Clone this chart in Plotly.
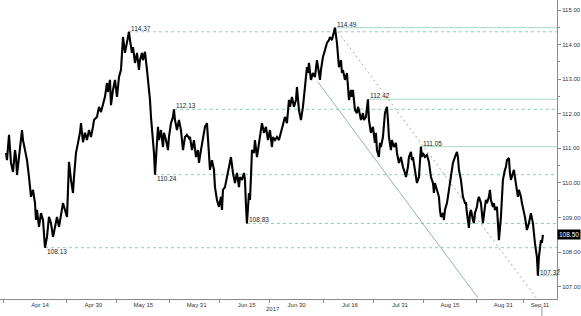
import pandas as pd
import plotly.graph_objects as go

# ---- data (days since 2017-04-02, price) ----
start_date = "2017-04-02"
day_offsets = [
    1.8, 2.1, 2.7, 3.3, 3.9, 4.5, 4.8, 5.1, 5.7, 6.3, 6.6, 6.9, 7.5, 8.1, 8.7, 9.0, 9.3, 9.9,
    10.5, 10.8, 11.1, 11.7, 12.3, 12.9, 13.2, 13.5, 14.1, 14.7, 15.3, 15.9, 16.5, 17.1, 17.7,
    18.3, 18.9, 19.5, 20.1, 20.4, 20.7, 21.3, 21.9, 22.2, 22.8, 23.4, 24.0, 24.3, 24.9, 25.5,
    26.1, 26.7, 27.3, 27.9, 28.2, 29.1, 29.7, 30.3, 30.9, 31.5, 32.1, 32.4, 33.0, 33.3, 33.9,
    34.5, 35.1, 35.7, 36.3, 36.6, 36.9, 37.5, 38.1, 38.7, 39.0, 39.6, 39.9, 40.5, 41.1, 41.7,
    42.0, 42.6, 42.9, 43.5, 44.1, 44.7, 45.0, 45.3, 45.9, 46.2, 46.5, 47.1, 47.4, 47.7, 48.3,
    48.9, 49.2, 49.8, 50.4, 50.7, 51.3, 51.9, 52.2, 52.5, 53.1, 53.7, 54.3, 54.9, 55.5, 56.1,
    56.7, 57.0, 57.6, 58.2, 58.8, 59.4, 59.7, 60.3, 60.9, 61.5, 62.1, 62.4, 62.7, 63.0, 63.6,
    64.2, 64.5, 65.1, 65.7, 66.3, 66.6, 66.9, 67.5, 68.1, 68.7, 69.3, 69.9, 70.5, 71.1, 71.7,
    72.0, 72.6, 73.2, 73.5, 73.8, 74.1, 74.7, 75.0, 75.3, 75.6, 76.2, 76.5, 77.1, 77.7, 78.3,
    78.6, 79.2, 79.8, 80.4, 81.0, 81.6, 81.9, 82.5, 83.1, 83.7, 84.3, 84.9, 85.5, 86.1, 86.7,
    87.0, 87.6, 88.2, 88.8, 89.1, 89.7, 90.3, 90.9, 91.5, 92.1, 92.4, 92.7, 93.3, 93.9, 94.5,
    95.1, 95.7, 96.0, 96.3, 96.9, 97.5, 98.1, 98.7, 99.0, 99.6, 100.2, 100.5, 101.1, 101.4,
    101.7, 102.3, 102.6, 102.9, 103.5, 104.1, 104.4, 104.7, 105.3, 105.6, 105.9, 106.5, 107.1,
    107.4, 107.7, 108.3, 108.9, 109.2, 109.8, 110.4, 110.7, 111.3, 111.9, 112.5, 112.8, 113.1,
    113.7, 114.0, 114.3, 114.9, 115.5, 116.1, 116.4, 116.7, 117.3, 117.6, 118.2, 118.8, 119.1,
    119.7, 120.3, 120.9, 121.5, 121.8, 122.4, 122.7, 123.3, 123.6, 123.9, 124.5, 125.1, 125.7,
    126.0, 126.3, 126.6, 126.9, 127.5, 128.1, 128.7, 129.0, 129.3, 129.9, 130.2, 130.5, 131.1,
    131.7, 132.0, 132.3, 132.9, 133.2, 133.5, 134.1, 134.4, 134.7, 135.3, 135.6, 135.9, 136.5,
    137.1, 137.4, 137.7, 138.3, 138.6, 138.9, 139.5, 139.8, 140.1, 140.7, 141.0, 141.3, 141.9,
    142.2, 142.5, 143.1, 143.4, 143.7, 144.3, 144.6, 144.9, 145.5, 145.8, 146.1, 146.7, 147.0,
    147.3, 147.9, 148.2, 148.5, 149.1, 149.4, 149.7, 150.3, 150.6, 150.9, 151.5, 151.8, 152.1,
    152.7, 153.0, 153.3, 153.9, 154.2, 154.5, 155.1, 155.4, 155.7, 156.3, 156.6, 156.9, 157.5,
    157.8, 158.1, 158.7, 159.0, 159.3, 159.9, 160.2, 160.5, 161.1, 161.4, 161.7, 162.0, 162.3,
    162.6, 162.9,
]
prices = [
    110.87, 110.66, 111.39, 110.58, 110.32, 110.95, 110.75, 110.23, 110.75, 111.24, 111.53,
    111.24, 110.95, 110.66, 110.17, 109.80, 109.60, 109.80, 109.42, 108.93, 109.22, 108.73,
    109.13, 108.93, 108.55, 108.13, 108.44, 109.02, 108.84, 108.44, 108.73, 109.02, 108.73,
    109.02, 109.42, 109.22, 109.02, 109.80, 110.61, 110.09, 109.71, 110.17, 110.87, 111.16,
    111.45, 111.73, 111.18, 111.45, 111.24, 111.53, 111.33, 111.62, 111.82, 111.91, 112.20,
    112.05, 112.31, 112.49, 112.89, 112.63, 112.98, 112.25, 112.69, 112.98, 112.49, 113.06,
    113.27, 113.76, 114.22, 113.76, 114.13, 114.37, 114.13, 113.76, 113.93, 113.47, 113.76,
    113.27, 113.55, 113.76, 113.55, 113.79, 113.27, 112.77, 112.40, 111.91, 111.33, 110.87,
    110.24, 111.04, 111.62, 111.24, 111.53, 111.04, 111.45, 111.24, 110.95, 111.33, 111.73,
    111.91, 112.13, 111.82, 111.53, 111.82, 111.53, 110.95, 111.33, 111.39, 111.30, 111.33,
    110.95, 111.24, 110.75, 110.95, 110.58, 110.95, 111.24, 111.62, 111.73, 111.16, 110.58,
    110.38, 110.66, 110.38, 109.88, 109.51, 109.31, 109.60, 109.22, 109.80, 109.88, 110.17,
    110.38, 110.75, 110.29, 110.00, 110.29, 109.88, 110.17, 110.09, 110.29, 110.09, 109.36,
    108.83, 109.71, 109.51, 110.17, 110.95, 110.87, 111.24, 110.75, 111.16, 111.53, 111.73,
    111.45, 111.62, 111.24, 111.53, 111.04, 111.33, 111.24, 111.33, 111.24, 111.45, 111.62,
    111.91, 111.73, 112.40, 112.20, 112.49, 112.20, 112.40, 112.77, 112.11, 111.82, 112.20,
    112.77, 113.35, 113.18, 113.47, 112.98, 113.18, 113.06, 113.55, 113.18, 112.98, 113.27,
    113.64, 113.84, 114.05, 114.13, 114.22, 114.13, 114.34, 114.49, 114.05, 113.64, 113.35,
    113.55, 113.18, 113.27, 112.98, 113.18, 112.69, 112.40, 112.69, 112.49, 112.69, 112.11,
    112.02, 112.20, 112.11, 111.82, 112.02, 111.82, 111.91, 112.42, 111.82, 111.45, 111.62,
    111.16, 111.45, 110.95, 110.75, 111.16, 111.04, 111.33, 112.02, 112.20, 111.82, 111.33,
    110.95, 111.24, 111.04, 111.16, 110.87, 110.58, 110.75, 110.46, 110.29, 110.17, 110.46,
    110.75, 110.90, 110.66, 110.75, 110.38, 110.00, 110.17, 110.66, 111.05, 110.75, 110.87,
    110.75, 110.81, 110.61, 110.38, 110.17, 110.00, 109.71, 110.00, 109.80, 109.60, 109.22,
    109.02, 109.13, 108.93, 109.22, 109.42, 109.60, 109.80, 110.17, 110.46, 110.58, 110.75,
    110.90, 110.75, 110.38, 110.09, 109.80, 109.60, 109.42, 109.42, 109.13, 108.70, 109.13,
    109.22, 108.93, 108.84, 109.13, 109.31, 109.51, 109.60, 109.42, 109.02, 108.84, 109.31,
    109.51, 109.42, 109.60, 109.80, 109.51, 109.31, 109.42, 109.22, 109.31, 108.84, 108.35,
    109.02, 109.80, 110.09, 110.38, 110.46, 110.66, 110.72, 110.29, 110.09, 110.29, 110.38,
    110.17, 109.80, 109.60, 109.80, 109.60, 109.42, 109.31, 109.02, 108.84, 108.64, 108.84,
    109.02, 109.13, 108.84, 108.44, 108.27, 107.86, 107.32, 107.86, 108.06, 108.35, 108.27,
    108.50,
]

# Marked highs / lows (level, start day, label side)
level_prices = [114.37, 112.13, 110.24, 108.13, 108.83, 114.49, 112.42, 111.05, 107.32]
level_days = [38.7, 52.2, 46.5, 13.5, 74.1, 100.5, 110.4, 126.3, 161.4]
level_solid = [False, False, False, False, False, True, True, True, True]
level_label_below = [False, False, True, True, False, False, False, False, False]

# Trend lines (start/end day, start/end price)
trend_solid_days = [95.4, 143.4]
trend_solid_prices = [112.92, 106.68]
trend_dot_days = [100.5, 161.1]
trend_dot_prices = [114.49, 106.65]

last_price = 108.50
last_day = 162.9

x_tick_dates = ["2017-04-14", "2017-04-30", "2017-05-15", "2017-05-31", "2017-06-15",
                "2017-06-30", "2017-07-16", "2017-07-31", "2017-08-15", "2017-08-31",
                "2017-09-11"]
x_tick_labels = ["Apr 14", "Apr 30", "May 15", "May 31", "Jun 15", "Jun 30", "Jul 16",
                 "Jul 31", "Aug 15", "Aug 31", "Sep 11"]
x_minor_dates = ["2017-04-03", "2017-04-22", "2017-05-07", "2017-05-23", "2017-06-07",
                 "2017-06-22", "2017-07-08", "2017-07-23", "2017-08-07", "2017-08-23",
                 "2017-09-06"]
y_ticks = [107, 108, 109, 110, 111, 112, 113, 114, 115]
x_range = ["2017-04-02", "2017-09-16 03:00"]
y_range = [106.647, 115.289]

base = pd.Timestamp(start_date)


def to_date(d):
    return base + pd.to_timedelta(d, unit="D")


dates = [to_date(d) for d in day_offsets]
end_date = pd.Timestamp(x_range[1])

FONT = "Liberation Sans"
DASH_COL = "#8ccfb6"
SOLID_COL = "#a9dac8"

fig = go.Figure()

# horizontal level lines
for p, d, solid in zip(level_prices, level_days, level_solid):
    fig.add_trace(go.Scatter(
        x=[to_date(d), end_date], y=[p, p], mode="lines",
        line=dict(color=SOLID_COL if solid else DASH_COL, width=1,
                  dash="solid" if solid else "3px,3px"),
        hoverinfo="skip", showlegend=False))

# trend lines
fig.add_trace(go.Scatter(
    x=[to_date(d) for d in trend_solid_days], y=trend_solid_prices, mode="lines",
    line=dict(color="#93b5a8", width=1), hoverinfo="skip", showlegend=False))
fig.add_trace(go.Scatter(
    x=[to_date(d) for d in trend_dot_days], y=trend_dot_prices, mode="lines",
    line=dict(color="#a8a8a8", width=1, dash="2px,3px"), hoverinfo="skip", showlegend=False))

# price line
fig.add_trace(go.Scatter(
    x=dates, y=prices, mode="lines",
    line=dict(color="#000000", width=2.1), showlegend=False))

# level labels
for p, d, below in zip(level_prices, level_days, level_label_below):
    fig.add_annotation(
        x=to_date(d), y=p, text=f"{p:.2f}", showarrow=False,
        xanchor="left", yanchor="middle", xshift=0,
        yshift=-4 if below else 3.5,
        font=dict(family=FONT, size=6.5, color="#222222"))

# last price box
fig.add_annotation(
    xref="paper", x=1, y=last_price, text=f"{last_price:.2f}", showarrow=False,
    xanchor="left", yanchor="middle", bgcolor="#000000", borderpad=1,
    font=dict(family=FONT, size=6.5, color="#ffffff"))

# year label
fig.add_annotation(
    xref="paper", yref="paper", x=0.49, y=-0.034, text="2017", showarrow=False,
    xanchor="center", yanchor="middle",
    font=dict(family=FONT, size=6, color="#333333"))

# current date marker below axis
fig.add_shape(type="line", xref="x", yref="paper",
              x0=to_date(last_day - 0.3), x1=to_date(last_day - 0.3), y0=-0.025, y1=-0.06,
              line=dict(color="#999999", width=1))

fig.update_layout(
    width=581, height=316,
    margin=dict(l=0, r=24, t=0, b=17),
    paper_bgcolor="white", plot_bgcolor="white",
    showlegend=False,
    xaxis=dict(
        type="date", range=x_range, showgrid=False, zeroline=False,
        showline=True, linecolor="#8a8a8a", linewidth=1,
        tickmode="array", tickvals=x_tick_dates, ticktext=x_tick_labels,
        ticks="", tickfont=dict(family=FONT, size=6, color="#333333"),
        minor=dict(tickmode="array", tickvals=x_minor_dates, ticks="outside",
                   ticklen=3, tickcolor="#8a8a8a", showgrid=False),
    ),
    yaxis=dict(
        side="right", range=y_range, showgrid=False, zeroline=False,
        showline=True, linecolor="#8a8a8a", linewidth=1,
        tickmode="array", tickvals=y_ticks, tickformat=".2f",
        ticks="outside", ticklen=3, tickcolor="#8a8a8a",
        tickfont=dict(family=FONT, size=6, color="#333333"),
        minor=dict(dtick=0.5, ticks="outside", ticklen=2, tickcolor="#8a8a8a",
                   showgrid=False),
    ),
)

fig.write_html("out.html")
